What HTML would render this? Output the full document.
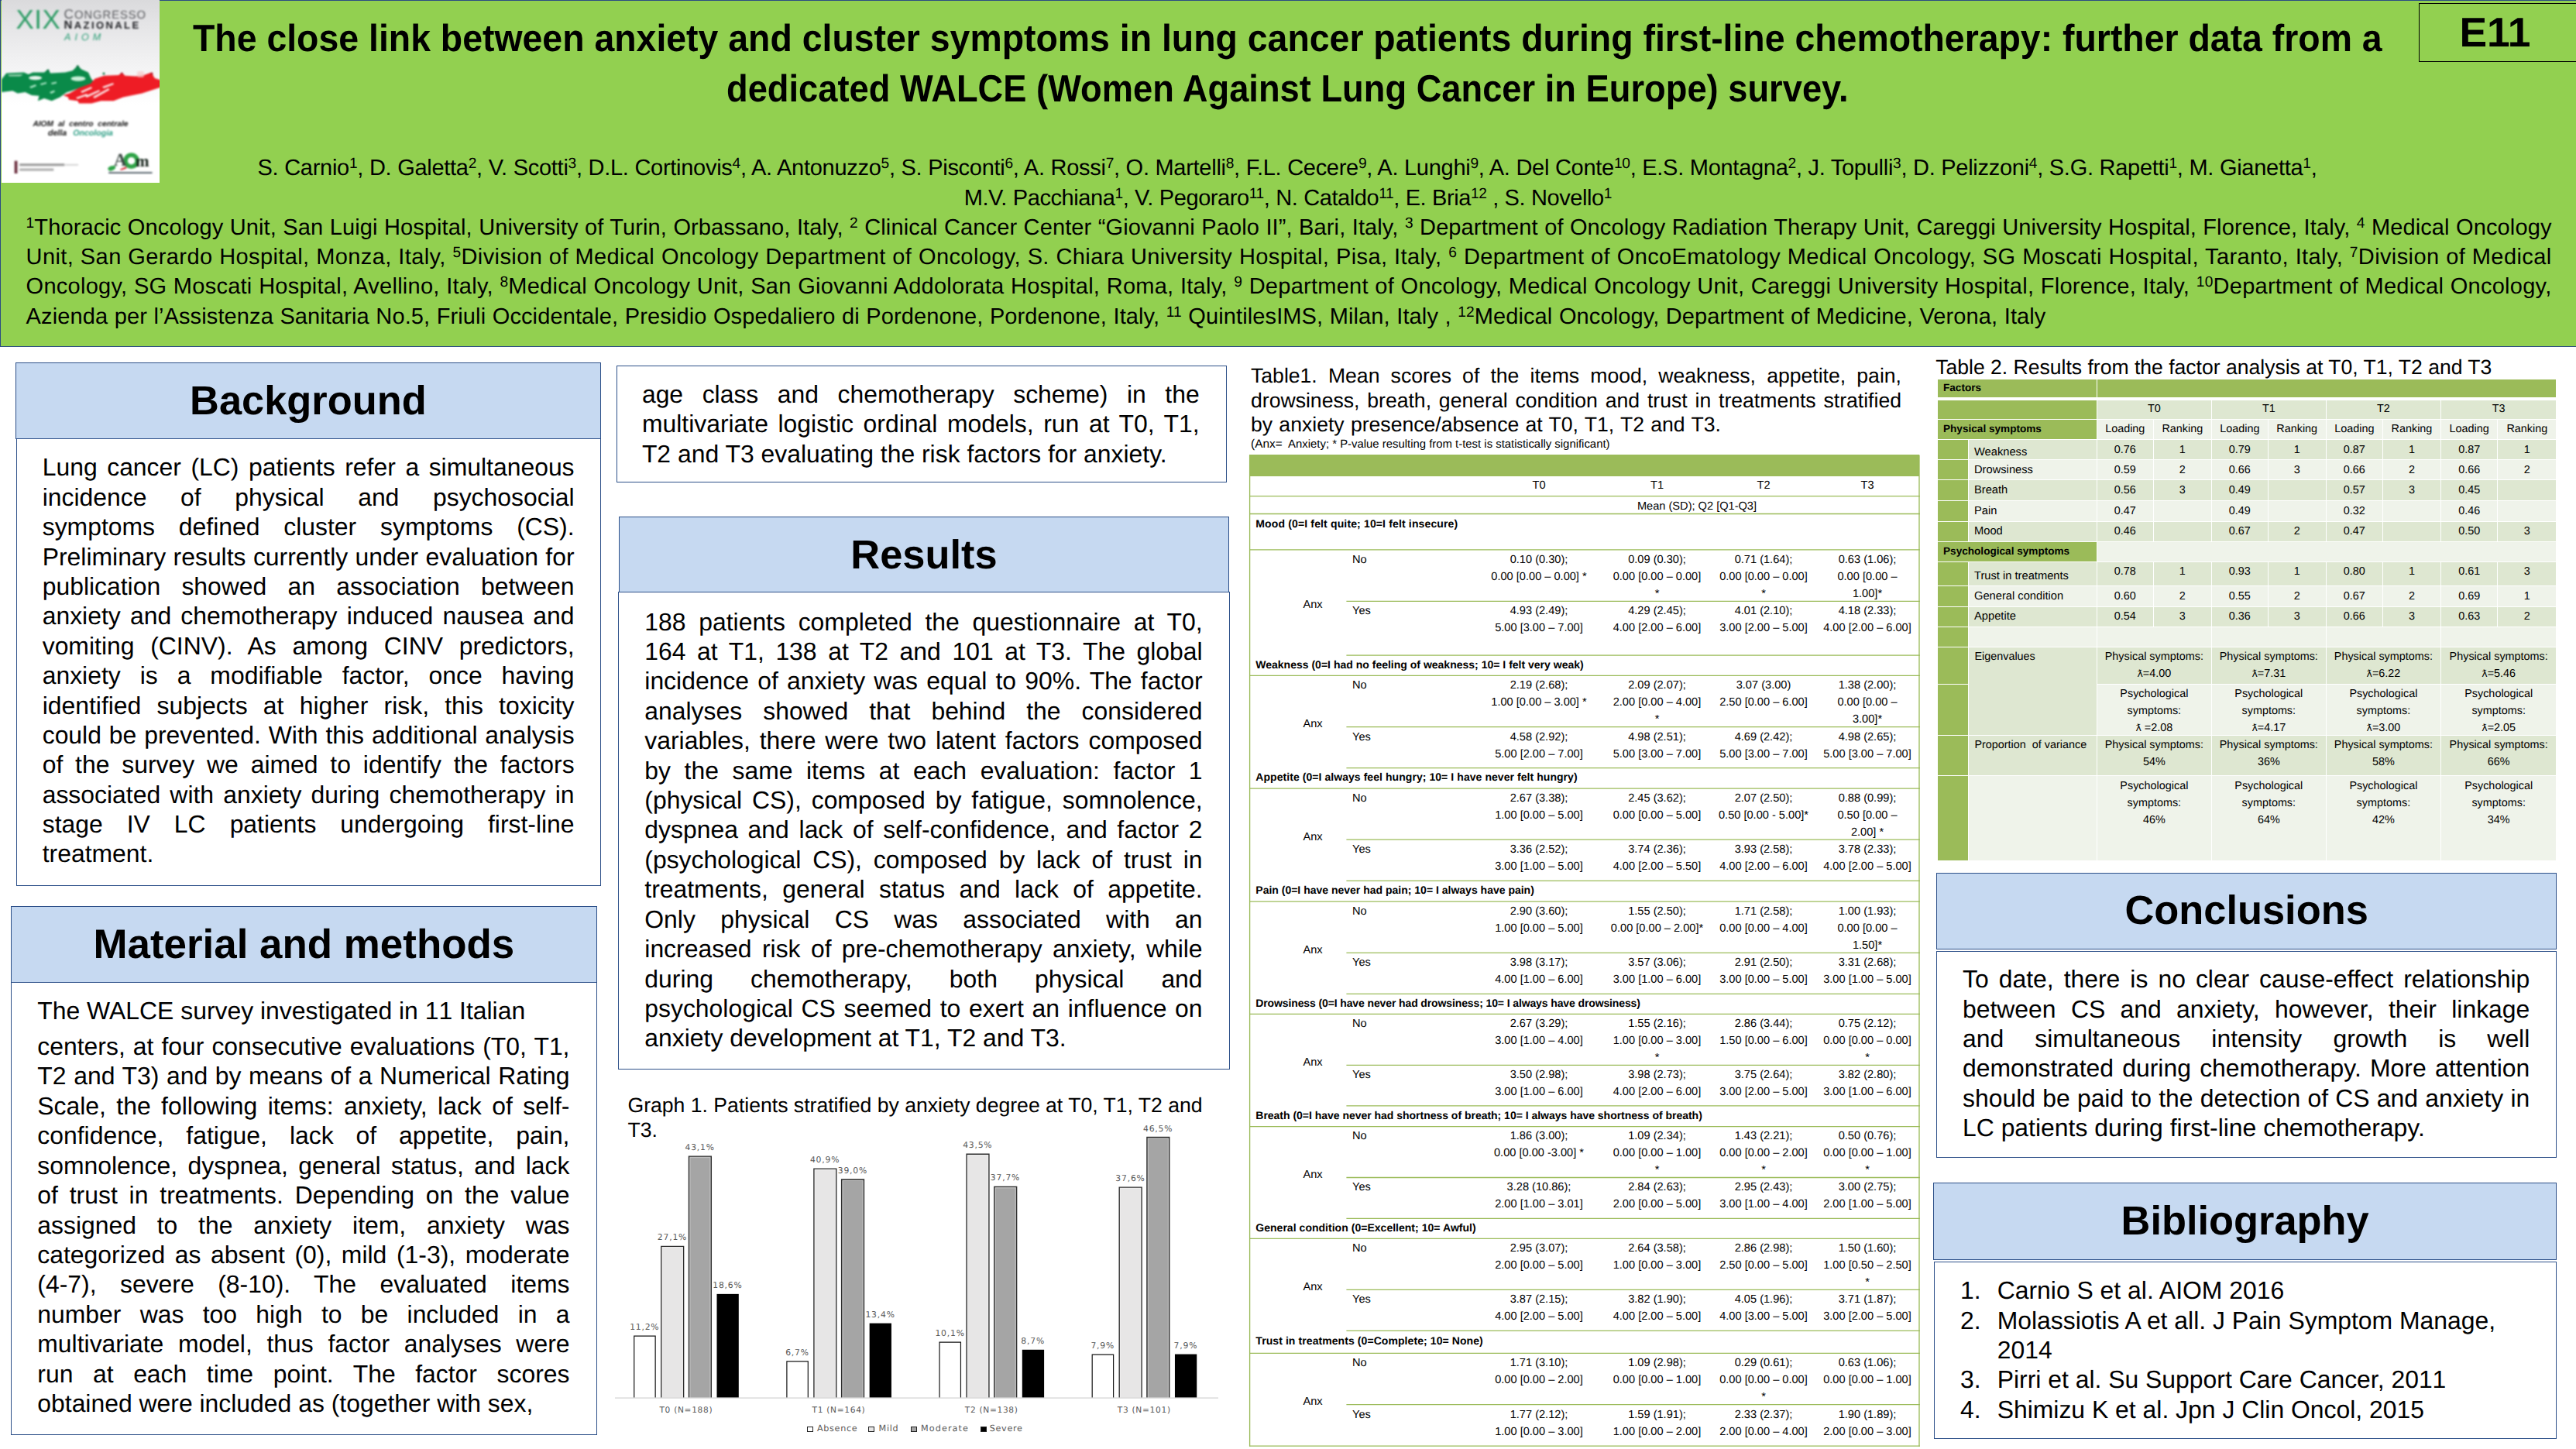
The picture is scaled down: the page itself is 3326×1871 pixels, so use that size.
<!DOCTYPE html>
<html lang="en"><head><meta charset="utf-8"><meta name="viewport" content="width=3326"><title>E11 poster</title>
<style>
*{box-sizing:border-box;margin:0;padding:0}
html,body{width:3326px;height:1871px;background:#fff;overflow:hidden}
body{position:relative;font-family:"Liberation Sans",sans-serif;color:#000;text-rendering:geometricPrecision}
.abs{position:absolute}
.hdr{position:absolute;left:0;top:0;width:3326px;height:448px;background:#92d050;border:1.3px solid #2a4c84;border-right:none}
.ttl{position:absolute;left:0;width:3326px;text-align:center;font-weight:bold;white-space:nowrap}
.auth{position:absolute;left:0;width:3326px;text-align:center;white-space:nowrap}
.auth sup,.aff sup{font-size:66%;vertical-align:baseline;position:relative;top:-0.46em;line-height:0}
.aff{position:absolute;white-space:nowrap;text-align:justify;text-align-last:justify}
.sh{position:absolute;background:#c6d9f1;border:1.4px solid #2d5089;text-align:center;font-weight:bold;font-size:52.9px;white-space:nowrap}
.sb{position:absolute;background:#fff;border:1.4px solid #2d5089}
.jl{position:absolute;white-space:nowrap;text-align:justify;text-align-last:justify;font-size:31.9px;line-height:38px;height:38px}
.ll{position:absolute;white-space:nowrap;text-align:left;font-size:31.9px;line-height:38px;height:38px}
.cap{position:absolute;white-space:nowrap;font-size:26.6px;line-height:32px;height:32px}
.capj{text-align:justify;text-align-last:justify}
.t1{position:absolute;font-size:14.6px;line-height:22px;white-space:nowrap}
.t1 b{font-size:14px;font-weight:bold}
.t1c{position:absolute;text-align:center}
.hl{position:absolute;height:1.7px;background:#b4cb82}
.vl{position:absolute;width:1.5px;background:#a9c46d}
.t2{position:absolute;font-size:14.4px;line-height:22px;white-space:nowrap;overflow:hidden}
.t2c{text-align:center}
.g{background:#9bbb59}.b1{background:#dee7d1}.b2{background:#eff3ea}
.t2 b{font-size:13.6px}
.nk{font-kerning:none}
.lam{font-family:"DejaVu Sans",sans-serif;font-size:12.5px}
.ch{position:absolute;font-family:"DejaVu Sans",sans-serif;color:#595959;white-space:nowrap;text-align:center}
</style></head>
<body>
<div class="hdr"></div>
<div class="abs" style="left:2px;top:0;width:204.3px;height:236px;overflow:hidden;background:linear-gradient(#dadadc 0,#e4e4e6 30px,#efeff0 70px,#f8f8f9 105px,#fff 135px)">
<div class="abs" style="left:-2px;top:0;width:210px;height:236px;filter:blur(0.85px)">
<svg class="abs" style="left:0;top:0" width="210" height="236" viewBox="0 0 210 236">
<path d="M2 102.6 L8.2 94.5 L31 93.6 L36.7 96 L42.4 93.6 L57 93.6 L62 89.6 L65.2 94.5 L84 93.6 L93.7 91.2 L100.3 84.7 L105.2 89.6 L114.1 93.6 L117.4 101 L121 105.5 L117.4 109 L101.9 114 L85.6 119.5 L77.4 125.4 L66.8 130.3 L57 127 L48.9 130.3 L50.5 123.8 L40.8 123 L32.6 118.9 L22.8 120.5 L16.3 117.3 L2 118.9 Z" fill="#0a8a49"/>
<path d="M117 108 L122.3 101.8 L134.5 97.7 L153.3 96.9 L157.3 93.6 L161.4 97.7 L175.3 98.5 L186 97 L195.6 93.6 L199.7 101 L208 103.4 L208 112.4 L195.6 116.5 L183.4 120.5 L159 125.4 L146.7 130.3 L130.4 130.3 L118.2 133.6 L101.9 133.6 L100.3 130.3 L88.9 128.7 L88 125.4 L81.5 123 L89.7 120.5 L101.9 113.6 Z" fill="#ee1c25"/>
<ellipse cx="45.6" cy="100.6" rx="8.5" ry="2.6" fill="#e9f6ee"/>
<ellipse cx="101" cy="101.6" rx="9.5" ry="3.2" fill="#c9efd8"/>
<path d="M10 96.5 L30 96 L26 98.5 L12 98.6Z" fill="#bfe3cd" opacity=".8"/>
<path d="M38 112 L46 109 L47 111 L40 114Z M52 108 L60 106 L60 108 L53 110Z M66 107 L73 105.5 L73 107.5 L67 109Z M64 119 L70 116.5 L71 118.5 L66 121Z" fill="#a9e6c4"/>
<path d="M104 118 L118 112 L119 114 L106 120Z M110 124 L128 116 L129 118 L112 126Z M120 125 L140 114 L141.5 116 L122 127Z M98 126 L112 121 L113 123 L100 128Z M132 112 L146 107 L147 109 L134 114Z" fill="#fbe3e4"/>
<rect x="177" y="92" width="9" height="8" rx="2" fill="#f7c9c9" opacity=".7"/>
<circle cx="62" cy="91" r="1.6" fill="#0a6f3d"/><circle cx="100.3" cy="86" r="1.8" fill="#0a6f3d"/><circle cx="134" cy="95" r="1.5" fill="#0a6f3d"/><circle cx="157.3" cy="95" r="1.6" fill="#b3162a"/><circle cx="196" cy="95" r="1.6" fill="#b3162a"/>
<rect x="18.7" y="207.7" width="3.7" height="16.3" fill="#6a2b3c"/>
<rect x="25.3" y="211.3" width="58" height="3" fill="#777" opacity=".75"/><rect x="84" y="212" width="17" height="1.6" fill="#aaa" opacity=".6"/>
<rect x="25.3" y="217.6" width="44" height="3" fill="#888" opacity=".7"/>
<circle cx="169.6" cy="207.7" r="7.6" fill="none" stroke="#2fa447" stroke-width="5.6"/>
<path d="M139.4 217 Q143 212.5 149.2 214.5 Q150 219 143 220.7 Q139 220.5 139.4 217Z" fill="#2fa447"/>
<path d="M155 218.5 L163 215 L163.5 217.5 L156 220Z" fill="#d8303a"/>
<rect x="140.2" y="222.3" width="56.3" height="1.7" fill="#3c4a55"/>
</svg>
<div class="abs" style="left:20.6px;top:7.0px;font-size:35px;line-height:38px;color:#2f9c66;white-space:nowrap;letter-spacing:0.4px">XIX</div>
<div class="abs" style="left:82.6px;top:9.6px;font-size:14.8px;line-height:17px;color:#5b5c60;letter-spacing:0.95px;white-space:nowrap"><span style="font-size:17.2px">C</span>ONGRESSO</div>
<div class="abs" style="left:82.6px;top:24.4px;font-size:13px;line-height:17px;color:#1f2024;letter-spacing:2.4px;white-space:nowrap;font-weight:bold"><span style="font-size:15px">N</span>AZIONALE</div>
<div class="abs" style="left:83px;top:41px;font-size:12.6px;line-height:14px;color:#2f9f78;letter-spacing:5px;white-space:nowrap;font-style:italic">AIOM</div>
<div class="abs" style="left:42.4px;top:153.8px;width:123px;text-align:justify;text-align-last:justify;font-size:10.2px;line-height:13px;font-weight:bold;font-style:italic;color:#111;white-space:nowrap">AIOM al centro centrale</div>
<div class="abs" style="left:62px;top:165.6px;width:84px;text-align:justify;text-align-last:justify;font-size:10.6px;line-height:13px;font-weight:bold;font-style:italic;color:#111;white-space:nowrap">della <span style="color:#2f9f86">Oncologia</span></div>
<div class="abs" style="left:147px;top:195.4px;font-family:'Liberation Serif',serif;font-size:23px;line-height:24px;color:#3d4a45;font-weight:bold">A</div>
<div class="abs" style="left:175px;top:197.3px;font-family:'Liberation Serif',serif;font-size:21px;line-height:22px;color:#16241c;font-weight:bold;letter-spacing:-0.5px">m</div>
</div>
</div>
<div class="abs" style="left:248.5px;top:20.0px;width:2986.2px;height:60px;line-height:60px;font-weight:bold;font-size:49.0px;white-space:nowrap;transform-origin:0 50%;transform:scaleX(0.9472)">The close link between anxiety and cluster symptoms in lung cancer patients during first-line chemotherapy: further data from a</div>
<div class="abs" style="left:938.0px;top:84.5px;width:1569.3px;height:60px;line-height:60px;font-weight:bold;font-size:49.0px;white-space:nowrap;transform-origin:0 50%;transform:scaleX(0.9242)">dedicated WALCE (Women Against Lung Cancer in Europe) survey.</div>
<div class="auth" style="left:332.5px;top:197.6px;width:2659.0px;height:38px;line-height:38px;font-size:29.0px;letter-spacing:-0.279px;text-align:justify;text-align-last:justify">S. Carnio<sup>1</sup>, D. Galetta<sup>2</sup>, V. Scotti<sup>3</sup>, D.L. Cortinovis<sup>4</sup>, A. Antonuzzo<sup>5</sup>, S. Pisconti<sup>6</sup>, A. Rossi<sup>7</sup>, O. Martelli<sup>8</sup>, F.L. Cecere<sup>9</sup>, A. Lunghi<sup>9</sup>, A. Del Conte<sup>10</sup>, E.S. Montagna<sup>2</sup>, J. Topulli<sup>3</sup>, D. Pelizzoni<sup>4</sup>, S.G. Rapetti<sup>1</sup>, M. Gianetta<sup>1</sup>,</div>
<div class="auth" style="left:1244.7px;top:236.6px;width:836.3px;height:38px;line-height:38px;font-size:29.0px;letter-spacing:-0.417px;text-align:justify;text-align-last:justify">M.V. Pacchiana<sup>1</sup>, V. Pegoraro<sup>11</sup>, N. Cataldo<sup>11</sup>, E. Bria<sup>12</sup> , S. Novello<sup>1</sup></div>
<div class="aff" style="left:33.6px;top:274.6px;width:3260.9px;height:38px;line-height:38px;font-size:29.0px;letter-spacing:0.114px"><sup>1</sup>Thoracic Oncology Unit, San Luigi Hospital, University of Turin, Orbassano, Italy, <sup>2</sup> Clinical Cancer Center  “Giovanni Paolo II”,  Bari, Italy, <sup>3</sup> Department of Oncology Radiation Therapy Unit, Careggi University Hospital, Florence, Italy, <sup>4</sup> Medical Oncology</div>
<div class="aff" style="left:33.6px;top:312.9px;width:3260.9px;height:38px;line-height:38px;font-size:29.0px;letter-spacing:0.391px">Unit, San Gerardo Hospital, Monza, Italy, <sup>5</sup>Division of Medical Oncology Department of Oncology, S. Chiara University Hospital, Pisa, Italy, <sup>6</sup> Department of OncoEmatology  Medical Oncology, SG Moscati Hospital, Taranto, Italy, <sup>7</sup>Division of Medical</div>
<div class="aff" style="left:33.6px;top:351.2px;width:3260.9px;height:38px;line-height:38px;font-size:29.0px;letter-spacing:0.255px">Oncology,  SG Moscati Hospital, Avellino, Italy, <sup>8</sup>Medical Oncology Unit, San Giovanni Addolorata Hospital, Roma, Italy, <sup>9</sup> Department of Oncology, Medical Oncology Unit, Careggi University Hospital, Florence, Italy, <sup>10</sup>Department of Medical Oncology,</div>
<div class="aff" style="left:33.6px;top:389.5px;width:2607.9px;height:38px;line-height:38px;font-size:29.0px;letter-spacing:0.112px">Azienda  per l’Assistenza Sanitaria  No.5, Friuli Occidentale, Presidio Ospedaliero  di Pordenone, Pordenone, Italy, <sup>11</sup> QuintilesIMS, Milan, Italy , <sup>12</sup>Medical Oncology, Department of Medicine, Verona, Italy</div>
<div class="abs" style="left:3122.5px;top:4px;width:210px;height:75.5px;border:1.8px solid #000;text-align:center;font-weight:bold;font-size:53.4px;line-height:75.5px;padding-right:12px">E11</div>
<div class="sb" style="left:20.7px;top:565.0px;width:755.3px;height:579.0px"></div>
<div class="sh" style="left:19.8px;top:468.0px;width:756.2px;height:99.2px;line-height:99.7px;font-size:52.4px">Background</div>
<div class="jl" style="left:54.7px;top:584.4px;width:686.9px">Lung cancer (LC) patients refer a simultaneous</div>
<div class="jl" style="left:54.7px;top:622.8px;width:686.9px">incidence of physical and psychosocial</div>
<div class="jl" style="left:54.7px;top:661.2px;width:686.9px">symptoms defined cluster symptoms (CS).</div>
<div class="jl" style="left:54.7px;top:699.6px;width:686.9px">Preliminary results currently under evaluation for</div>
<div class="jl" style="left:54.7px;top:738.0px;width:686.9px">publication showed an association between</div>
<div class="jl" style="left:54.7px;top:776.3px;width:686.9px">anxiety and chemotherapy induced nausea and</div>
<div class="jl" style="left:54.7px;top:814.7px;width:686.9px">vomiting (CINV). As among CINV predictors,</div>
<div class="jl" style="left:54.7px;top:853.1px;width:686.9px">anxiety is a modifiable factor, once having</div>
<div class="jl" style="left:54.7px;top:891.5px;width:686.9px">identified subjects at higher risk, this toxicity</div>
<div class="jl" style="left:54.7px;top:929.9px;width:686.9px">could be prevented. With this additional analysis</div>
<div class="jl" style="left:54.7px;top:968.2px;width:686.9px">of the survey we aimed to identify the factors</div>
<div class="jl" style="left:54.7px;top:1006.6px;width:686.9px">associated with anxiety during chemotherapy in</div>
<div class="jl" style="left:54.7px;top:1045.0px;width:686.9px">stage IV LC patients undergoing first-line</div>
<div class="ll" style="left:54.7px;top:1083.4px;width:686.9px">treatment.</div>
<div class="sb" style="left:13.5px;top:1267.5px;width:757.8px;height:585.0px"></div>
<div class="sh" style="left:13.5px;top:1170.0px;width:757.8px;height:98.5px;line-height:98.0px;font-size:52.9px">Material and methods</div>
<div class="ll" style="left:48.3px;top:1285.6px;width:687.2px">The WALCE survey investigated in <span class="nk">11</span> Italian</div>
<div class="jl" style="left:48.3px;top:1331.9px;width:687.2px">centers, at four consecutive evaluations (T0, T1,</div>
<div class="jl" style="left:48.3px;top:1370.4px;width:687.2px">T2 and T3) and by means of a Numerical Rating</div>
<div class="jl" style="left:48.3px;top:1408.8px;width:687.2px">Scale, the following items: anxiety, lack of self-</div>
<div class="jl" style="left:48.3px;top:1447.2px;width:687.2px">confidence, fatigue, lack of appetite, pain,</div>
<div class="jl" style="left:48.3px;top:1485.7px;width:687.2px">somnolence, dyspnea, general status, and lack</div>
<div class="jl" style="left:48.3px;top:1524.1px;width:687.2px">of trust in treatments. Depending on the value</div>
<div class="jl" style="left:48.3px;top:1562.5px;width:687.2px">assigned to the anxiety item, anxiety was</div>
<div class="jl" style="left:48.3px;top:1600.9px;width:687.2px">categorized as absent (0), mild (1-3), moderate</div>
<div class="jl" style="left:48.3px;top:1639.4px;width:687.2px">(4-7), severe (8-10). The evaluated items</div>
<div class="jl" style="left:48.3px;top:1677.8px;width:687.2px">number was too high to be included in a</div>
<div class="jl" style="left:48.3px;top:1716.2px;width:687.2px">multivariate model, thus factor analyses were</div>
<div class="jl" style="left:48.3px;top:1754.7px;width:687.2px">run at each time point. The factor scores</div>
<div class="ll" style="left:48.3px;top:1793.1px;width:687.2px">obtained were included as (together with sex,</div>
<div class="sb" style="left:795.5px;top:471.5px;width:788.0px;height:151.0px"></div>
<div class="jl" style="left:828.9px;top:490.0px;width:719.8px">age class and chemotherapy scheme) in the</div>
<div class="jl" style="left:828.9px;top:528.4px;width:719.8px">multivariate logistic ordinal models, run at T0, T1,</div>
<div class="ll" style="left:828.9px;top:566.8px;width:719.8px">T2 and T3 evaluating the risk factors for anxiety.</div>
<div class="sb" style="left:797.5px;top:764.0px;width:790.5px;height:616.5px"></div>
<div class="sh" style="left:799.0px;top:667.0px;width:788.0px;height:98.0px;line-height:98.8px;font-size:52.4px">Results</div>
<div class="jl" style="left:832.3px;top:783.5px;width:720.3px">188 patients completed the questionnaire at T0,</div>
<div class="jl" style="left:832.3px;top:821.9px;width:720.3px">164 at T1, 138 at T2 and 101 at T3. The global</div>
<div class="jl" style="left:832.3px;top:860.3px;width:720.3px">incidence of anxiety was equal to 90%. The factor</div>
<div class="jl" style="left:832.3px;top:898.7px;width:720.3px">analyses showed that behind the considered</div>
<div class="jl" style="left:832.3px;top:937.1px;width:720.3px">variables, there were two latent factors composed</div>
<div class="jl" style="left:832.3px;top:975.6px;width:720.3px">by the same items at each evaluation: factor 1</div>
<div class="jl" style="left:832.3px;top:1014.0px;width:720.3px">(physical CS), composed by fatigue, somnolence,</div>
<div class="jl" style="left:832.3px;top:1052.4px;width:720.3px">dyspnea and lack of self-confidence, and factor 2</div>
<div class="jl" style="left:832.3px;top:1090.8px;width:720.3px">(psychological CS), composed by lack of trust in</div>
<div class="jl" style="left:832.3px;top:1129.2px;width:720.3px">treatments, general status and lack of appetite.</div>
<div class="jl" style="left:832.3px;top:1167.7px;width:720.3px">Only physical CS was associated with an</div>
<div class="jl" style="left:832.3px;top:1206.1px;width:720.3px">increased risk of pre-chemotherapy anxiety, while</div>
<div class="jl" style="left:832.3px;top:1244.5px;width:720.3px">during chemotherapy, both physical and</div>
<div class="jl" style="left:832.3px;top:1282.9px;width:720.3px">psychological CS seemed to exert an influence on</div>
<div class="ll" style="left:832.3px;top:1321.3px;width:720.3px">anxiety development at T1, T2 and T3.</div>
<div class="cap" style="left:810.5px;top:1410.5px">Graph 1. Patients stratified by anxiety degree at T0, T1, T2 and</div>
<div class="cap" style="left:810.5px;top:1442.7px">T3.</div>
<div class="ch" style="left:802.2px;top:1706.9px;width:60.2px;font-size:10.8px;line-height:14px;letter-spacing:.8px">11,2%</div>
<div class="ch" style="left:837.9px;top:1591.4px;width:60.2px;font-size:10.8px;line-height:14px;letter-spacing:.8px">27,1%</div>
<div class="ch" style="left:873.6px;top:1475.2px;width:60.2px;font-size:10.8px;line-height:14px;letter-spacing:.8px">43,1%</div>
<div class="ch" style="left:909.3px;top:1653.2px;width:60.2px;font-size:10.8px;line-height:14px;letter-spacing:.8px">18,6%</div>
<div class="ch" style="left:825.9px;top:1814px;width:120px;font-size:10.6px;line-height:14px;letter-spacing:.7px">T0 (N=188)</div>
<div class="ch" style="left:999.4px;top:1739.6px;width:60.2px;font-size:10.8px;line-height:14px;letter-spacing:.8px">6,7%</div>
<div class="ch" style="left:1035.0px;top:1491.2px;width:60.2px;font-size:10.8px;line-height:14px;letter-spacing:.8px">40,9%</div>
<div class="ch" style="left:1070.8px;top:1505.0px;width:60.2px;font-size:10.8px;line-height:14px;letter-spacing:.8px">39,0%</div>
<div class="ch" style="left:1106.5px;top:1690.9px;width:60.2px;font-size:10.8px;line-height:14px;letter-spacing:.8px">13,4%</div>
<div class="ch" style="left:1023.0px;top:1814px;width:120px;font-size:10.6px;line-height:14px;letter-spacing:.7px">T1 (N=164)</div>
<div class="ch" style="left:1196.5px;top:1714.9px;width:60.2px;font-size:10.8px;line-height:14px;letter-spacing:.8px">10,1%</div>
<div class="ch" style="left:1232.2px;top:1472.3px;width:60.2px;font-size:10.8px;line-height:14px;letter-spacing:.8px">43,5%</div>
<div class="ch" style="left:1267.9px;top:1514.4px;width:60.2px;font-size:10.8px;line-height:14px;letter-spacing:.8px">37,7%</div>
<div class="ch" style="left:1303.6px;top:1725.1px;width:60.2px;font-size:10.8px;line-height:14px;letter-spacing:.8px">8,7%</div>
<div class="ch" style="left:1220.2px;top:1814px;width:120px;font-size:10.6px;line-height:14px;letter-spacing:.7px">T2 (N=138)</div>
<div class="ch" style="left:1393.7px;top:1730.9px;width:60.2px;font-size:10.8px;line-height:14px;letter-spacing:.8px">7,9%</div>
<div class="ch" style="left:1429.4px;top:1515.1px;width:60.2px;font-size:10.8px;line-height:14px;letter-spacing:.8px">37,6%</div>
<div class="ch" style="left:1465.1px;top:1450.5px;width:60.2px;font-size:10.8px;line-height:14px;letter-spacing:.8px">46,5%</div>
<div class="ch" style="left:1500.8px;top:1730.9px;width:60.2px;font-size:10.8px;line-height:14px;letter-spacing:.8px">7,9%</div>
<div class="ch" style="left:1417.3px;top:1814px;width:120px;font-size:10.6px;line-height:14px;letter-spacing:.7px">T3 (N=101)</div>
<svg class="abs" style="left:780px;top:1440px" width="820" height="380" viewBox="780 1440 820 380"><path d="M818.75 1805.0 V1725.21 H846.15 V1805.0" fill="#fff" stroke="#161616" stroke-width="1.2"/><path d="M853.75 1805.0 V1609.42 H882.65 V1805.0" fill="#e7e6e6" stroke="#2e2e2e" stroke-width="1.35"/><path d="M855.25 1805.0 V1610.92 H881.15 V1805.0" fill="none" stroke="#ffffff" stroke-opacity=".33" stroke-width="1"/><path d="M889.45 1805.0 V1493.19 H918.35 V1805.0" fill="#a5a5a5" stroke="#2e2e2e" stroke-width="1.35"/><path d="M890.95 1805.0 V1494.69 H916.85 V1805.0" fill="none" stroke="#ffffff" stroke-opacity=".33" stroke-width="1"/><rect x="925.50" y="1670.86" width="28.3" height="134.14" fill="#000"/><path d="M1015.90 1805.0 V1757.90 H1043.30 V1805.0" fill="#fff" stroke="#161616" stroke-width="1.2"/><path d="M1050.90 1805.0 V1509.17 H1079.80 V1805.0" fill="#e7e6e6" stroke="#2e2e2e" stroke-width="1.35"/><path d="M1052.40 1805.0 V1510.67 H1078.30 V1805.0" fill="none" stroke="#ffffff" stroke-opacity=".33" stroke-width="1"/><path d="M1086.60 1805.0 V1522.97 H1115.50 V1805.0" fill="#a5a5a5" stroke="#2e2e2e" stroke-width="1.35"/><path d="M1088.10 1805.0 V1524.47 H1114.00 V1805.0" fill="none" stroke="#ffffff" stroke-opacity=".33" stroke-width="1"/><rect x="1122.65" y="1708.63" width="28.3" height="96.37" fill="#000"/><path d="M1213.05 1805.0 V1733.20 H1240.45 V1805.0" fill="#fff" stroke="#161616" stroke-width="1.2"/><path d="M1248.05 1805.0 V1490.29 H1276.95 V1805.0" fill="#e7e6e6" stroke="#2e2e2e" stroke-width="1.35"/><path d="M1249.55 1805.0 V1491.79 H1275.45 V1805.0" fill="none" stroke="#ffffff" stroke-opacity=".33" stroke-width="1"/><path d="M1283.75 1805.0 V1532.42 H1312.65 V1805.0" fill="#a5a5a5" stroke="#2e2e2e" stroke-width="1.35"/><path d="M1285.25 1805.0 V1533.92 H1311.15 V1805.0" fill="none" stroke="#ffffff" stroke-opacity=".33" stroke-width="1"/><rect x="1319.80" y="1742.77" width="28.3" height="62.23" fill="#000"/><path d="M1410.20 1805.0 V1749.18 H1437.60 V1805.0" fill="#fff" stroke="#161616" stroke-width="1.2"/><path d="M1445.20 1805.0 V1533.14 H1474.10 V1805.0" fill="#e7e6e6" stroke="#2e2e2e" stroke-width="1.35"/><path d="M1446.70 1805.0 V1534.64 H1472.60 V1805.0" fill="none" stroke="#ffffff" stroke-opacity=".33" stroke-width="1"/><path d="M1480.90 1805.0 V1468.49 H1509.80 V1805.0" fill="#a5a5a5" stroke="#2e2e2e" stroke-width="1.35"/><path d="M1482.40 1805.0 V1469.99 H1508.30 V1805.0" fill="none" stroke="#ffffff" stroke-opacity=".33" stroke-width="1"/><rect x="1516.95" y="1748.58" width="28.3" height="56.42" fill="#000"/><rect x="794" y="1804.4" width="779" height="1.4" fill="#d9d9d9"/></svg>
<div class="abs" style="left:1042.3px;top:1841.8px;width:7.6px;height:7.2px;background:#fff;border:1px solid #222"></div><div class="ch" style="left:1054.9px;top:1838.2px;text-align:left;font-size:11.2px;line-height:14px;letter-spacing:0.7px">Absence</div>
<div class="abs" style="left:1121.3px;top:1841.8px;width:7.6px;height:7.2px;background:#e7e6e6;border:1px solid #222"></div><div class="ch" style="left:1134.6px;top:1838.2px;text-align:left;font-size:11.2px;line-height:14px;letter-spacing:0.7px">Mild</div>
<div class="abs" style="left:1176.3px;top:1841.8px;width:7.6px;height:7.2px;background:#a5a5a5;border:1px solid #222"></div><div class="ch" style="left:1189.0px;top:1838.2px;text-align:left;font-size:11.2px;line-height:14px;letter-spacing:1.1px">Moderate</div>
<div class="abs" style="left:1265.6px;top:1841.8px;width:8.6px;height:7.2px;background:#000;border:1px solid #222"></div><div class="ch" style="left:1277.7px;top:1838.2px;text-align:left;font-size:11.2px;line-height:14px;letter-spacing:0.7px">Severe</div>
<div class="cap capj" style="left:1615px;top:468.6px;width:840px">Table1. Mean scores of the items mood, weakness, appetite, pain,</div>
<div class="cap capj" style="left:1615px;top:501.1px;width:840px">drowsiness, breath, general condition and trust in treatments stratified</div>
<div class="cap capj" style="left:1615px;top:532.2px;width:606.9px">by anxiety  presence/absence at T0, T1, T2 and T3.</div>
<div class="abs" style="left:1615px;top:563.5px;white-space:nowrap;font-size:14.9px;line-height:20px"><span style="font-size:15.4px">(Anx=</span>&nbsp; Anxiety; * P-value resulting from t-test is statistically significant)</div>
<div class="abs" style="left:1613.3px;top:587.3px;width:865.0px;height:27.4px;background:#9bbb59"></div>
<div class="t1" style="left:1904px;top:615.5px;width:166px;text-align:center;">T0</div><div class="t1" style="left:2071px;top:615.5px;width:137px;text-align:center;">T1</div><div class="t1" style="left:2208px;top:615.5px;width:138px;text-align:center;">T2</div><div class="t1" style="left:2344px;top:615.5px;width:134px;text-align:center;">T3</div>
<div class="t1" style="left:1904px;top:643.0px;width:574px;text-align:center;">Mean (SD); Q2 [Q1-Q3]</div>
<div class="t1" style="left:1621.3px;top:664.5px;width:261.0px;text-align:justify;text-align-last:justify;font-weight:bold;font-size:14px;letter-spacing:0.13px">Mood (0=I felt quite; 10=I felt insecure)</div><div class="t1" style="left:1746px;top:712.3px;width:154px;text-align:left;">No</div><div class="t1" style="left:1904px;top:712.3px;width:166px;text-align:center;">0.10 (0.30);<br>0.00 [0.00 – 0.00] *</div><div class="t1" style="left:2071px;top:712.3px;width:137px;text-align:center;">0.09 (0.30);<br>0.00 [0.00 – 0.00]<br>*</div><div class="t1" style="left:2208px;top:712.3px;width:138px;text-align:center;">0.71 (1.64);<br>0.00 [0.00 – 0.00]<br>*</div><div class="t1" style="left:2344px;top:712.3px;width:134px;text-align:center;">0.63 (1.06);<br>0.00 [0.00 –<br>1.00]*</div><div class="t1" style="left:1746px;top:778.3px;width:154px;text-align:left;">Yes</div><div class="t1" style="left:1904px;top:778.3px;width:166px;text-align:center;">4.93 (2.49);<br>5.00 [3.00 – 7.00]</div><div class="t1" style="left:2071px;top:778.3px;width:137px;text-align:center;">4.29 (2.45);<br>4.00 [2.00 – 6.00]</div><div class="t1" style="left:2208px;top:778.3px;width:138px;text-align:center;">4.01 (2.10);<br>3.00 [2.00 – 5.00]</div><div class="t1" style="left:2344px;top:778.3px;width:134px;text-align:center;">4.18 (2.33);<br>4.00 [2.00 – 6.00]</div><div class="t1" style="left:1655px;top:770.4px;width:80px;text-align:center;">Anx</div>
<div class="t1" style="left:1621.3px;top:846.5px;width:423.4px;text-align:justify;text-align-last:justify;font-weight:bold;font-size:14px;letter-spacing:-0.002px">Weakness (0=I  had no feeling of weakness; 10= I felt very weak)</div><div class="t1" style="left:1746px;top:874.4px;width:154px;text-align:left;">No</div><div class="t1" style="left:1904px;top:874.4px;width:166px;text-align:center;">2.19 (2.68);<br>1.00 [0.00 – 3.00] *</div><div class="t1" style="left:2071px;top:874.4px;width:137px;text-align:center;">2.09 (2.07);<br>2.00 [0.00 – 4.00]<br>*</div><div class="t1" style="left:2208px;top:874.4px;width:138px;text-align:center;">3.07 (3.00)<br>2.50 [0.00 – 6.00]</div><div class="t1" style="left:2344px;top:874.4px;width:134px;text-align:center;">1.38 (2.00);<br>0.00 [0.00 –<br>3.00]*</div><div class="t1" style="left:1746px;top:940.5px;width:154px;text-align:left;">Yes</div><div class="t1" style="left:1904px;top:940.5px;width:166px;text-align:center;">4.58 (2.92);<br>5.00 [2.00 – 7.00]</div><div class="t1" style="left:2071px;top:940.5px;width:137px;text-align:center;">4.98 (2.51);<br>5.00 [3.00 – 7.00]</div><div class="t1" style="left:2208px;top:940.5px;width:138px;text-align:center;">4.69 (2.42);<br>5.00 [3.00 – 7.00]</div><div class="t1" style="left:2344px;top:940.5px;width:134px;text-align:center;">4.98 (2.65);<br>5.00 [3.00 – 7.00]</div><div class="t1" style="left:1655px;top:923.9px;width:80px;text-align:center;">Anx</div>
<div class="t1" style="left:1621.3px;top:992.3px;width:415.4px;text-align:justify;text-align-last:justify;font-weight:bold;font-size:14px;letter-spacing:0.053px">Appetite (0=I always feel hungry; 10= I have never felt hungry)</div><div class="t1" style="left:1746px;top:1020.1px;width:154px;text-align:left;">No</div><div class="t1" style="left:1904px;top:1020.1px;width:166px;text-align:center;">2.67 (3.38);<br>1.00 [0.00 – 5.00]</div><div class="t1" style="left:2071px;top:1020.1px;width:137px;text-align:center;">2.45 (3.62);<br>0.00 [0.00 – 5.00]</div><div class="t1" style="left:2208px;top:1020.1px;width:138px;text-align:center;">2.07 (2.50);<br>0.50 [0.00 - 5.00]*</div><div class="t1" style="left:2344px;top:1020.1px;width:134px;text-align:center;">0.88 (0.99);<br>0.50 [0.00 –<br>2.00] *</div><div class="t1" style="left:1746px;top:1086.2px;width:154px;text-align:left;">Yes</div><div class="t1" style="left:1904px;top:1086.2px;width:166px;text-align:center;">3.36 (2.52);<br>3.00 [1.00 – 5.00]</div><div class="t1" style="left:2071px;top:1086.2px;width:137px;text-align:center;">3.74 (2.36);<br>4.00 [2.00 – 5.50]</div><div class="t1" style="left:2208px;top:1086.2px;width:138px;text-align:center;">3.93 (2.58);<br>4.00 [2.00 – 6.00]</div><div class="t1" style="left:2344px;top:1086.2px;width:134px;text-align:center;">3.78 (2.33);<br>4.00 [2.00 – 5.00]</div><div class="t1" style="left:1655px;top:1069.8px;width:80px;text-align:center;">Anx</div>
<div class="t1" style="left:1621.3px;top:1138.3px;width:359.5px;text-align:justify;text-align-last:justify;font-weight:bold;font-size:14px;letter-spacing:-0.009px">Pain (0=I have never had pain; 10= I always have pain)</div><div class="t1" style="left:1746px;top:1166.1px;width:154px;text-align:left;">No</div><div class="t1" style="left:1904px;top:1166.1px;width:166px;text-align:center;">2.90 (3.60);<br>1.00 [0.00 – 5.00]</div><div class="t1" style="left:2071px;top:1166.1px;width:137px;text-align:center;">1.55 (2.50);<br>0.00 [0.00 – 2.00]*</div><div class="t1" style="left:2208px;top:1166.1px;width:138px;text-align:center;">1.71 (2.58);<br>0.00 [0.00 – 4.00]</div><div class="t1" style="left:2344px;top:1166.1px;width:134px;text-align:center;">1.00 (1.93);<br>0.00 [0.00 –<br>1.50]*</div><div class="t1" style="left:1746px;top:1232.3px;width:154px;text-align:left;">Yes</div><div class="t1" style="left:1904px;top:1232.3px;width:166px;text-align:center;">3.98 (3.17);<br>4.00 [1.00 – 6.00]</div><div class="t1" style="left:2071px;top:1232.3px;width:137px;text-align:center;">3.57 (3.06);<br>3.00 [1.00 – 6.00]</div><div class="t1" style="left:2208px;top:1232.3px;width:138px;text-align:center;">2.91 (2.50);<br>3.00 [0.00 – 5.00]</div><div class="t1" style="left:2344px;top:1232.3px;width:134px;text-align:center;">3.31 (2.68);<br>3.00 [1.00 – 5.00]</div><div class="t1" style="left:1655px;top:1215.8px;width:80px;text-align:center;">Anx</div>
<div class="t1" style="left:1621.3px;top:1284.3px;width:496.5px;text-align:justify;text-align-last:justify;font-weight:bold;font-size:14px;letter-spacing:-0.125px">Drowsiness (0=I have never had drowsiness; 10= I always have drowsiness)</div><div class="t1" style="left:1746px;top:1311.2px;width:154px;text-align:left;">No</div><div class="t1" style="left:1904px;top:1311.2px;width:166px;text-align:center;">2.67 (3.29);<br>3.00 [1.00 – 4.00]</div><div class="t1" style="left:2071px;top:1311.2px;width:137px;text-align:center;">1.55 (2.16);<br>1.00 [0.00 – 3.00]<br>*</div><div class="t1" style="left:2208px;top:1311.2px;width:138px;text-align:center;">2.86 (3.44);<br>1.50 [0.00 – 6.00]</div><div class="t1" style="left:2344px;top:1311.2px;width:134px;text-align:center;">0.75 (2.12);<br>0.00 [0.00 – 0.00]<br>*</div><div class="t1" style="left:1746px;top:1377.3px;width:154px;text-align:left;">Yes</div><div class="t1" style="left:1904px;top:1377.3px;width:166px;text-align:center;">3.50 (2.98);<br>3.00 [1.00 – 6.00]</div><div class="t1" style="left:2071px;top:1377.3px;width:137px;text-align:center;">3.98 (2.73);<br>4.00 [2.00 – 6.00]</div><div class="t1" style="left:2208px;top:1377.3px;width:138px;text-align:center;">3.75 (2.64);<br>3.00 [2.00 – 5.00]</div><div class="t1" style="left:2344px;top:1377.3px;width:134px;text-align:center;">3.82 (2.80);<br>3.00 [1.00 – 6.00]</div><div class="t1" style="left:1655px;top:1360.7px;width:80px;text-align:center;">Anx</div>
<div class="t1" style="left:1621.3px;top:1429.0px;width:576.5px;text-align:justify;text-align-last:justify;font-weight:bold;font-size:14px;letter-spacing:-0.024px">Breath (0=I have never had shortness of breath; 10= I always have shortness of breath)</div><div class="t1" style="left:1746px;top:1456.2px;width:154px;text-align:left;">No</div><div class="t1" style="left:1904px;top:1456.2px;width:166px;text-align:center;">1.86 (3.00);<br>0.00 [0.00 -3.00] *</div><div class="t1" style="left:2071px;top:1456.2px;width:137px;text-align:center;">1.09 (2.34);<br>0.00 [0.00 – 1.00]<br>*</div><div class="t1" style="left:2208px;top:1456.2px;width:138px;text-align:center;">1.43 (2.21);<br>0.00 [0.00 – 2.00]<br>*</div><div class="t1" style="left:2344px;top:1456.2px;width:134px;text-align:center;">0.50 (0.76);<br>0.00 [0.00 – 1.00]<br>*</div><div class="t1" style="left:1746px;top:1522.3px;width:154px;text-align:left;">Yes</div><div class="t1" style="left:1904px;top:1522.3px;width:166px;text-align:center;">3.28 (10.86);<br>2.00 [1.00 – 3.01]</div><div class="t1" style="left:2071px;top:1522.3px;width:137px;text-align:center;">2.84 (2.63);<br>2.00 [0.00 – 5.00]</div><div class="t1" style="left:2208px;top:1522.3px;width:138px;text-align:center;">2.95 (2.43);<br>3.00 [1.00 – 4.00]</div><div class="t1" style="left:2344px;top:1522.3px;width:134px;text-align:center;">3.00 (2.75);<br>2.00 [1.00 – 5.00]</div><div class="t1" style="left:1655px;top:1505.7px;width:80px;text-align:center;">Anx</div>
<div class="t1" style="left:1621.3px;top:1574.0px;width:284.4px;text-align:justify;text-align-last:justify;font-weight:bold;font-size:14px;letter-spacing:0.017px">General condition (0=Excellent; 10= Awful)</div><div class="t1" style="left:1746px;top:1601.2px;width:154px;text-align:left;">No</div><div class="t1" style="left:1904px;top:1601.2px;width:166px;text-align:center;">2.95 (3.07);<br>2.00 [0.00 – 5.00]</div><div class="t1" style="left:2071px;top:1601.2px;width:137px;text-align:center;">2.64 (3.58);<br>1.00 [0.00 – 3.00]</div><div class="t1" style="left:2208px;top:1601.2px;width:138px;text-align:center;">2.86 (2.98);<br>2.50 [0.00 – 5.00]</div><div class="t1" style="left:2344px;top:1601.2px;width:134px;text-align:center;">1.50 (1.60);<br>1.00 [0.50 – 2.50]<br>*</div><div class="t1" style="left:1746px;top:1667.4px;width:154px;text-align:left;">Yes</div><div class="t1" style="left:1904px;top:1667.4px;width:166px;text-align:center;">3.87 (2.15);<br>4.00 [2.00 – 5.00]</div><div class="t1" style="left:2071px;top:1667.4px;width:137px;text-align:center;">3.82 (1.90);<br>4.00 [2.00 – 5.00]</div><div class="t1" style="left:2208px;top:1667.4px;width:138px;text-align:center;">4.05 (1.96);<br>4.00 [3.00 – 5.00]</div><div class="t1" style="left:2344px;top:1667.4px;width:134px;text-align:center;">3.71 (1.87);<br>3.00 [2.00 – 5.00]</div><div class="t1" style="left:1655px;top:1650.8px;width:80px;text-align:center;">Anx</div>
<div class="t1" style="left:1621.3px;top:1720.3px;width:293.5px;text-align:justify;text-align-last:justify;font-weight:bold;font-size:14px;letter-spacing:0.067px">Trust in treatments (0=Complete; 10= None)</div><div class="t1" style="left:1746px;top:1749.4px;width:154px;text-align:left;">No</div><div class="t1" style="left:1904px;top:1749.4px;width:166px;text-align:center;">1.71 (3.10);<br>0.00 [0.00 – 2.00]</div><div class="t1" style="left:2071px;top:1749.4px;width:137px;text-align:center;">1.09 (2.98);<br>0.00 [0.00 – 1.00]</div><div class="t1" style="left:2208px;top:1749.4px;width:138px;text-align:center;">0.29 (0.61);<br>0.00 [0.00 – 0.00]<br>*</div><div class="t1" style="left:2344px;top:1749.4px;width:134px;text-align:center;">0.63 (1.06);<br>0.00 [0.00 – 1.00]</div><div class="t1" style="left:1746px;top:1816.3px;width:154px;text-align:left;">Yes</div><div class="t1" style="left:1904px;top:1816.3px;width:166px;text-align:center;">1.77 (2.12);<br>1.00 [0.00 – 3.00]</div><div class="t1" style="left:2071px;top:1816.3px;width:137px;text-align:center;">1.59 (1.91);<br>1.00 [0.00 – 2.00]</div><div class="t1" style="left:2208px;top:1816.3px;width:138px;text-align:center;">2.33 (2.37);<br>2.00 [0.00 – 4.00]</div><div class="t1" style="left:2344px;top:1816.3px;width:134px;text-align:center;">1.90 (1.89);<br>2.00 [0.00 – 3.00]</div><div class="t1" style="left:1655px;top:1799.2px;width:80px;text-align:center;">Anx</div>
<svg class="abs" style="left:1600px;top:580px" width="900" height="1291" viewBox="1600 580 900 1291" fill="none" stroke="#9bbb59" stroke-width="1.33"><line x1="1613.3" y1="640.60" x2="2478.9" y2="640.60"/><line x1="1613.3" y1="663.50" x2="2478.9" y2="663.50"/><line x1="1613.3" y1="709.80" x2="2478.9" y2="709.80"/><line x1="1738.4" y1="776.30" x2="2478.9" y2="776.30"/><line x1="1738.4" y1="846.10" x2="2478.9" y2="846.10"/><line x1="1613.3" y1="872.40" x2="2478.9" y2="872.40"/><line x1="1738.4" y1="938.60" x2="2478.9" y2="938.60"/><line x1="1738.4" y1="991.60" x2="2478.9" y2="991.60"/><line x1="1613.3" y1="1018.20" x2="2478.9" y2="1018.20"/><line x1="1738.4" y1="1084.20" x2="2478.9" y2="1084.20"/><line x1="1738.4" y1="1137.30" x2="2478.9" y2="1137.30"/><line x1="1613.3" y1="1164.20" x2="2478.9" y2="1164.20"/><line x1="1738.4" y1="1230.30" x2="2478.9" y2="1230.30"/><line x1="1738.4" y1="1283.30" x2="2478.9" y2="1283.30"/><line x1="1613.3" y1="1309.30" x2="2478.9" y2="1309.30"/><line x1="1738.4" y1="1375.30" x2="2478.9" y2="1375.30"/><line x1="1738.4" y1="1427.95" x2="2478.9" y2="1427.95"/><line x1="1613.3" y1="1454.60" x2="2478.9" y2="1454.60"/><line x1="1738.4" y1="1520.50" x2="2478.9" y2="1520.50"/><line x1="1738.4" y1="1573.30" x2="2478.9" y2="1573.30"/><line x1="1613.3" y1="1599.30" x2="2478.9" y2="1599.30"/><line x1="1738.4" y1="1665.40" x2="2478.9" y2="1665.40"/><line x1="1738.4" y1="1718.30" x2="2478.9" y2="1718.30"/><line x1="1613.3" y1="1747.40" x2="2478.9" y2="1747.40"/><line x1="1738.4" y1="1813.60" x2="2478.9" y2="1813.60"/><line x1="1613.3" y1="1867.20" x2="2478.9" y2="1867.20"/><line x1="1613.6" y1="587.5" x2="1613.6" y2="1867.8"/><line x1="2478.0" y1="587.5" x2="2478.0" y2="1867.8"/></svg>
<div class="cap" style="left:2499.2px;top:457.5px;font-size:26.56px">Table 2. Results from the factor analysis at T0, T1, T2 and T3</div>
<div class="t2 g" style="left:2502.0px;top:489.5px;width:204.8px;height:23.4px;text-align:left;padding-left:7px;padding-top:0.5px;"><b>Factors</b></div><div class="t2 g" style="left:2707.8px;top:489.5px;width:592.5px;height:23.4px;text-align:center;"></div>
<div class="t2 g" style="left:2502.0px;top:516.7px;width:204.8px;height:24.1px;text-align:center;"></div><div class="t2 b1" style="left:2707.8px;top:516.7px;width:147.1px;height:24.1px;text-align:center;padding-top:-0.2px;">T0</div><div class="t2 b1" style="left:2855.9px;top:516.7px;width:146.8px;height:24.1px;text-align:center;padding-top:-0.2px;">T1</div><div class="t2 b1" style="left:3003.7px;top:516.7px;width:147.4px;height:24.1px;text-align:center;padding-top:-0.2px;">T2</div><div class="t2 b1" style="left:3152.1px;top:516.7px;width:148.2px;height:24.1px;text-align:center;padding-top:-0.2px;">T3</div>
<div class="t2 g" style="left:2502.0px;top:541.8px;width:204.8px;height:25.1px;text-align:left;padding-left:7px;padding-top:1.1px;"><b>Physical symptoms</b></div><div class="t2 b2" style="left:2707.8px;top:541.8px;width:71.9px;height:25.1px;text-align:center;padding-top:1.1px;">Loading</div><div class="t2 b2" style="left:2780.7px;top:541.8px;width:74.2px;height:25.1px;text-align:center;padding-top:1.1px;">Ranking</div><div class="t2 b2" style="left:2855.9px;top:541.8px;width:71.9px;height:25.1px;text-align:center;padding-top:1.1px;">Loading</div><div class="t2 b2" style="left:2928.8px;top:541.8px;width:73.9px;height:25.1px;text-align:center;padding-top:1.1px;">Ranking</div><div class="t2 b2" style="left:3003.7px;top:541.8px;width:72.2px;height:25.1px;text-align:center;padding-top:1.1px;">Loading</div><div class="t2 b2" style="left:3076.9px;top:541.8px;width:74.2px;height:25.1px;text-align:center;padding-top:1.1px;">Ranking</div><div class="t2 b2" style="left:3152.1px;top:541.8px;width:72.2px;height:25.1px;text-align:center;padding-top:1.1px;">Loading</div><div class="t2 b2" style="left:3225.3px;top:541.8px;width:75.0px;height:25.1px;text-align:center;padding-top:1.1px;">Ranking</div>
<div class="t2 g" style="left:2502.0px;top:567.9px;width:39.0px;height:25.0px;text-align:center;"></div><div class="t2 b1" style="left:2542.0px;top:567.9px;width:164.8px;height:25.0px;text-align:left;padding-left:7.0px;padding-top:5.0px;"><span style="font-size:14.7px">Weakness</span></div><div class="t2 b1" style="left:2707.8px;top:567.9px;width:71.9px;height:25.0px;text-align:center;padding-top:2.2px;">0.76</div><div class="t2 b1" style="left:2780.7px;top:567.9px;width:74.2px;height:25.0px;text-align:center;padding-top:2.2px;">1</div><div class="t2 b1" style="left:2855.9px;top:567.9px;width:71.9px;height:25.0px;text-align:center;padding-top:2.2px;">0.79</div><div class="t2 b1" style="left:2928.8px;top:567.9px;width:73.9px;height:25.0px;text-align:center;padding-top:2.2px;">1</div><div class="t2 b1" style="left:3003.7px;top:567.9px;width:72.2px;height:25.0px;text-align:center;padding-top:2.2px;">0.87</div><div class="t2 b1" style="left:3076.9px;top:567.9px;width:74.2px;height:25.0px;text-align:center;padding-top:2.2px;">1</div><div class="t2 b1" style="left:3152.1px;top:567.9px;width:72.2px;height:25.0px;text-align:center;padding-top:2.2px;">0.87</div><div class="t2 b1" style="left:3225.3px;top:567.9px;width:75.0px;height:25.0px;text-align:center;padding-top:2.2px;">1</div>
<div class="t2 g" style="left:2502.0px;top:593.9px;width:39.0px;height:25.5px;text-align:center;"></div><div class="t2 b2" style="left:2542.0px;top:593.9px;width:164.8px;height:25.5px;text-align:left;padding-left:7.0px;padding-top:2.2px;"><span style="font-size:14.7px">Drowsiness</span></div><div class="t2 b2" style="left:2707.8px;top:593.9px;width:71.9px;height:25.5px;text-align:center;padding-top:2.2px;">0.59</div><div class="t2 b2" style="left:2780.7px;top:593.9px;width:74.2px;height:25.5px;text-align:center;padding-top:2.2px;">2</div><div class="t2 b2" style="left:2855.9px;top:593.9px;width:71.9px;height:25.5px;text-align:center;padding-top:2.2px;">0.66</div><div class="t2 b2" style="left:2928.8px;top:593.9px;width:73.9px;height:25.5px;text-align:center;padding-top:2.2px;">3</div><div class="t2 b2" style="left:3003.7px;top:593.9px;width:72.2px;height:25.5px;text-align:center;padding-top:2.2px;">0.66</div><div class="t2 b2" style="left:3076.9px;top:593.9px;width:74.2px;height:25.5px;text-align:center;padding-top:2.2px;">2</div><div class="t2 b2" style="left:3152.1px;top:593.9px;width:72.2px;height:25.5px;text-align:center;padding-top:2.2px;">0.66</div><div class="t2 b2" style="left:3225.3px;top:593.9px;width:75.0px;height:25.5px;text-align:center;padding-top:2.2px;">2</div>
<div class="t2 g" style="left:2502.0px;top:620.4px;width:39.0px;height:25.6px;text-align:center;"></div><div class="t2 b1" style="left:2542.0px;top:620.4px;width:164.8px;height:25.6px;text-align:left;padding-left:7.0px;padding-top:2.0px;"><span style="font-size:14.7px">Breath</span></div><div class="t2 b1" style="left:2707.8px;top:620.4px;width:71.9px;height:25.6px;text-align:center;padding-top:1.2px;">0.56</div><div class="t2 b1" style="left:2780.7px;top:620.4px;width:74.2px;height:25.6px;text-align:center;padding-top:1.2px;">3</div><div class="t2 b1" style="left:2855.9px;top:620.4px;width:71.9px;height:25.6px;text-align:center;padding-top:1.2px;">0.49</div><div class="t2 b1" style="left:2928.8px;top:620.4px;width:73.9px;height:25.6px;text-align:center;padding-top:1.2px;"></div><div class="t2 b1" style="left:3003.7px;top:620.4px;width:72.2px;height:25.6px;text-align:center;padding-top:1.2px;">0.57</div><div class="t2 b1" style="left:3076.9px;top:620.4px;width:74.2px;height:25.6px;text-align:center;padding-top:1.2px;">3</div><div class="t2 b1" style="left:3152.1px;top:620.4px;width:72.2px;height:25.6px;text-align:center;padding-top:1.2px;">0.45</div><div class="t2 b1" style="left:3225.3px;top:620.4px;width:75.0px;height:25.6px;text-align:center;padding-top:1.2px;"></div>
<div class="t2 g" style="left:2502.0px;top:647.0px;width:39.0px;height:25.5px;text-align:center;"></div><div class="t2 b2" style="left:2542.0px;top:647.0px;width:164.8px;height:25.5px;text-align:left;padding-left:7.0px;padding-top:2.4px;"><span style="font-size:14.7px">Pain</span></div><div class="t2 b2" style="left:2707.8px;top:647.0px;width:71.9px;height:25.5px;text-align:center;padding-top:2.4px;">0.47</div><div class="t2 b2" style="left:2780.7px;top:647.0px;width:74.2px;height:25.5px;text-align:center;padding-top:2.4px;"></div><div class="t2 b2" style="left:2855.9px;top:647.0px;width:71.9px;height:25.5px;text-align:center;padding-top:2.4px;">0.49</div><div class="t2 b2" style="left:2928.8px;top:647.0px;width:73.9px;height:25.5px;text-align:center;padding-top:2.4px;"></div><div class="t2 b2" style="left:3003.7px;top:647.0px;width:72.2px;height:25.5px;text-align:center;padding-top:2.4px;">0.32</div><div class="t2 b2" style="left:3076.9px;top:647.0px;width:74.2px;height:25.5px;text-align:center;padding-top:2.4px;"></div><div class="t2 b2" style="left:3152.1px;top:647.0px;width:72.2px;height:25.5px;text-align:center;padding-top:2.4px;">0.46</div><div class="t2 b2" style="left:3225.3px;top:647.0px;width:75.0px;height:25.5px;text-align:center;padding-top:2.4px;"></div>
<div class="t2 g" style="left:2502.0px;top:673.5px;width:39.0px;height:25.1px;text-align:center;"></div><div class="t2 b1" style="left:2542.0px;top:673.5px;width:164.8px;height:25.1px;text-align:left;padding-left:7.0px;padding-top:1.6px;"><span style="font-size:14.7px">Mood</span></div><div class="t2 b1" style="left:2707.8px;top:673.5px;width:71.9px;height:25.1px;text-align:center;padding-top:1.6px;">0.46</div><div class="t2 b1" style="left:2780.7px;top:673.5px;width:74.2px;height:25.1px;text-align:center;padding-top:1.6px;"></div><div class="t2 b1" style="left:2855.9px;top:673.5px;width:71.9px;height:25.1px;text-align:center;padding-top:1.6px;">0.67</div><div class="t2 b1" style="left:2928.8px;top:673.5px;width:73.9px;height:25.1px;text-align:center;padding-top:1.6px;">2</div><div class="t2 b1" style="left:3003.7px;top:673.5px;width:72.2px;height:25.1px;text-align:center;padding-top:1.6px;">0.47</div><div class="t2 b1" style="left:3076.9px;top:673.5px;width:74.2px;height:25.1px;text-align:center;padding-top:1.6px;"></div><div class="t2 b1" style="left:3152.1px;top:673.5px;width:72.2px;height:25.1px;text-align:center;padding-top:1.6px;">0.50</div><div class="t2 b1" style="left:3225.3px;top:673.5px;width:75.0px;height:25.1px;text-align:center;padding-top:1.6px;">3</div>
<div class="t2 g" style="left:2502.0px;top:699.6px;width:204.8px;height:25.3px;text-align:left;padding-left:7px;padding-top:1.4px;"><b>Psychological symptoms</b></div><div class="t2 b2" style="left:2707.8px;top:699.6px;width:592.5px;height:25.3px;text-align:center;"></div>
<div class="t2 g" style="left:2502.0px;top:725.9px;width:39.0px;height:29.9px;text-align:center;"></div><div class="t2 b1" style="left:2542.0px;top:725.9px;width:164.8px;height:29.9px;text-align:left;padding-left:7.0px;padding-top:7.0px;"><span style="font-size:14.7px">Trust in treatments</span></div><div class="t2 b1" style="left:2707.8px;top:725.9px;width:71.9px;height:29.9px;text-align:center;padding-top:1.4px;">0.78</div><div class="t2 b1" style="left:2780.7px;top:725.9px;width:74.2px;height:29.9px;text-align:center;padding-top:1.4px;">1</div><div class="t2 b1" style="left:2855.9px;top:725.9px;width:71.9px;height:29.9px;text-align:center;padding-top:1.4px;">0.93</div><div class="t2 b1" style="left:2928.8px;top:725.9px;width:73.9px;height:29.9px;text-align:center;padding-top:1.4px;">1</div><div class="t2 b1" style="left:3003.7px;top:725.9px;width:72.2px;height:29.9px;text-align:center;padding-top:1.4px;">0.80</div><div class="t2 b1" style="left:3076.9px;top:725.9px;width:74.2px;height:29.9px;text-align:center;padding-top:1.4px;">1</div><div class="t2 b1" style="left:3152.1px;top:725.9px;width:72.2px;height:29.9px;text-align:center;padding-top:1.4px;">0.61</div><div class="t2 b1" style="left:3225.3px;top:725.9px;width:75.0px;height:29.9px;text-align:center;padding-top:1.4px;">3</div>
<div class="t2 g" style="left:2502.0px;top:756.8px;width:39.0px;height:26.0px;text-align:center;"></div><div class="t2 b2" style="left:2542.0px;top:756.8px;width:164.8px;height:26.0px;text-align:left;padding-left:7.0px;padding-top:2.4px;"><span style="font-size:14.7px">General condition</span></div><div class="t2 b2" style="left:2707.8px;top:756.8px;width:71.9px;height:26.0px;text-align:center;padding-top:2.4px;">0.60</div><div class="t2 b2" style="left:2780.7px;top:756.8px;width:74.2px;height:26.0px;text-align:center;padding-top:2.4px;">2</div><div class="t2 b2" style="left:2855.9px;top:756.8px;width:71.9px;height:26.0px;text-align:center;padding-top:2.4px;">0.55</div><div class="t2 b2" style="left:2928.8px;top:756.8px;width:73.9px;height:26.0px;text-align:center;padding-top:2.4px;">2</div><div class="t2 b2" style="left:3003.7px;top:756.8px;width:72.2px;height:26.0px;text-align:center;padding-top:2.4px;">0.67</div><div class="t2 b2" style="left:3076.9px;top:756.8px;width:74.2px;height:26.0px;text-align:center;padding-top:2.4px;">2</div><div class="t2 b2" style="left:3152.1px;top:756.8px;width:72.2px;height:26.0px;text-align:center;padding-top:2.4px;">0.69</div><div class="t2 b2" style="left:3225.3px;top:756.8px;width:75.0px;height:26.0px;text-align:center;padding-top:2.4px;">1</div>
<div class="t2 g" style="left:2502.0px;top:783.8px;width:39.0px;height:25.0px;text-align:center;"></div><div class="t2 b1" style="left:2542.0px;top:783.8px;width:164.8px;height:25.0px;text-align:left;padding-left:7.0px;padding-top:1.2px;"><span style="font-size:14.7px">Appetite</span></div><div class="t2 b1" style="left:2707.8px;top:783.8px;width:71.9px;height:25.0px;text-align:center;padding-top:1.2px;">0.54</div><div class="t2 b1" style="left:2780.7px;top:783.8px;width:74.2px;height:25.0px;text-align:center;padding-top:1.2px;">3</div><div class="t2 b1" style="left:2855.9px;top:783.8px;width:71.9px;height:25.0px;text-align:center;padding-top:1.2px;">0.36</div><div class="t2 b1" style="left:2928.8px;top:783.8px;width:73.9px;height:25.0px;text-align:center;padding-top:1.2px;">3</div><div class="t2 b1" style="left:3003.7px;top:783.8px;width:72.2px;height:25.0px;text-align:center;padding-top:1.2px;">0.66</div><div class="t2 b1" style="left:3076.9px;top:783.8px;width:74.2px;height:25.0px;text-align:center;padding-top:1.2px;">3</div><div class="t2 b1" style="left:3152.1px;top:783.8px;width:72.2px;height:25.0px;text-align:center;padding-top:1.2px;">0.63</div><div class="t2 b1" style="left:3225.3px;top:783.8px;width:75.0px;height:25.0px;text-align:center;padding-top:1.2px;">2</div>
<div class="t2 g" style="left:2502.0px;top:809.8px;width:39.0px;height:25.3px;text-align:center;"></div><div class="t2 b2" style="left:2542.0px;top:809.8px;width:164.8px;height:25.3px;text-align:center;"></div><div class="t2 b2" style="left:2707.8px;top:809.8px;width:147.1px;height:25.3px;text-align:center;"></div><div class="t2 b2" style="left:2855.9px;top:809.8px;width:146.8px;height:25.3px;text-align:center;"></div><div class="t2 b2" style="left:3003.7px;top:809.8px;width:147.4px;height:25.3px;text-align:center;"></div><div class="t2 b2" style="left:3152.1px;top:809.8px;width:148.2px;height:25.3px;text-align:center;"></div>
<div class="t2 g" style="left:2502.0px;top:836.1px;width:39.0px;height:46.7px;text-align:center;"></div><div class="t2 g" style="left:2502.0px;top:883.8px;width:39.0px;height:65.0px;text-align:center;"></div><div class="t2 b1" style="left:2542.0px;top:836.1px;width:164.8px;height:112.7px;text-align:left;padding-left:7.4px;padding-top:0.7px;">Eigenvalues</div><div class="t2 b1" style="left:2707.8px;top:836.1px;width:147.1px;height:46.7px;text-align:center;padding-top:0.9px;">Physical symptoms:<br><span class="lam">ƛ</span>=4.00</div><div class="t2 b1" style="left:2855.9px;top:836.1px;width:146.8px;height:46.7px;text-align:center;padding-top:0.9px;">Physical symptoms:<br><span class="lam">ƛ</span>=7.31</div><div class="t2 b1" style="left:3003.7px;top:836.1px;width:147.4px;height:46.7px;text-align:center;padding-top:0.9px;">Physical symptoms:<br><span class="lam">ƛ</span>=6.22</div><div class="t2 b1" style="left:3152.1px;top:836.1px;width:148.2px;height:46.7px;text-align:center;padding-top:0.9px;">Physical symptoms:<br><span class="lam">ƛ</span>=5.46</div><div class="t2 b2" style="left:2707.8px;top:883.8px;width:147.1px;height:65.0px;text-align:center;padding-top:0.9px;">Psychological<br>symptoms:<br><span class="lam">ƛ</span> =2.08</div><div class="t2 b2" style="left:2855.9px;top:883.8px;width:146.8px;height:65.0px;text-align:center;padding-top:0.9px;">Psychological<br>symptoms:<br><span class="lam">ƛ</span>=4.17</div><div class="t2 b2" style="left:3003.7px;top:883.8px;width:147.4px;height:65.0px;text-align:center;padding-top:0.9px;">Psychological<br>symptoms:<br><span class="lam">ƛ</span>=3.00</div><div class="t2 b2" style="left:3152.1px;top:883.8px;width:148.2px;height:65.0px;text-align:center;padding-top:0.9px;">Psychological<br>symptoms:<br><span class="lam">ƛ</span>=2.05</div>
<div class="t2 g" style="left:2502.0px;top:949.8px;width:39.0px;height:51.5px;text-align:center;"></div><div class="t2 b1" style="left:2542.0px;top:949.8px;width:164.8px;height:51.5px;text-align:left;padding-left:7.4px;padding-top:1.5px;">Proportion &nbsp;of variance</div><div class="t2 b1" style="left:2707.8px;top:949.8px;width:147.1px;height:51.5px;text-align:center;padding-top:0.9px;">Physical symptoms:<br>54%</div><div class="t2 b1" style="left:2855.9px;top:949.8px;width:146.8px;height:51.5px;text-align:center;padding-top:0.9px;">Physical symptoms:<br>36%</div><div class="t2 b1" style="left:3003.7px;top:949.8px;width:147.4px;height:51.5px;text-align:center;padding-top:0.9px;">Physical symptoms:<br>58%</div><div class="t2 b1" style="left:3152.1px;top:949.8px;width:148.2px;height:51.5px;text-align:center;padding-top:0.9px;">Physical symptoms:<br>66%</div><div class="t2 g" style="left:2502.0px;top:1002.3px;width:39.0px;height:109.2px;text-align:center;"></div><div class="t2 b2" style="left:2542.0px;top:1002.3px;width:164.8px;height:109.2px;text-align:center;"></div><div class="t2 b2" style="left:2707.8px;top:1002.3px;width:147.1px;height:109.2px;text-align:center;padding-top:1.3px;">Psychological<br>symptoms:<br>46%</div><div class="t2 b2" style="left:2855.9px;top:1002.3px;width:146.8px;height:109.2px;text-align:center;padding-top:1.3px;">Psychological<br>symptoms:<br>64%</div><div class="t2 b2" style="left:3003.7px;top:1002.3px;width:147.4px;height:109.2px;text-align:center;padding-top:1.3px;">Psychological<br>symptoms:<br>42%</div><div class="t2 b2" style="left:3152.1px;top:1002.3px;width:148.2px;height:109.2px;text-align:center;padding-top:1.3px;">Psychological<br>symptoms:<br>34%</div>
<div class="sb" style="left:2500.0px;top:1227.8px;width:801.3px;height:267.0px"></div>
<div class="sh" style="left:2500.0px;top:1127.0px;width:801.3px;height:98.8px;line-height:97.6px;font-size:52.4px">Conclusions</div>
<div class="jl" style="left:2534.0px;top:1245.3px;width:732.3px">To date, there is no clear cause-effect relationship</div>
<div class="jl" style="left:2534.0px;top:1283.7px;width:732.3px">between CS and anxiety, however, their linkage</div>
<div class="jl" style="left:2534.0px;top:1322.0px;width:732.3px">and simultaneous intensity growth is well</div>
<div class="jl" style="left:2534.0px;top:1360.4px;width:732.3px">demonstrated during chemotherapy. More attention</div>
<div class="jl" style="left:2534.0px;top:1398.7px;width:732.3px">should be paid to the detection of CS and anxiety in</div>
<div class="ll" style="left:2534.0px;top:1437.1px;width:732.3px">LC patients during first-line chemotherapy.</div>
<div class="sb" style="left:2497.0px;top:1629.0px;width:804.3px;height:228.6px"></div>
<div class="sh" style="left:2496.0px;top:1527.2px;width:805.3px;height:99.4px;line-height:99.1px;font-size:52.4px">Bibliography</div>
<div class="ll" style="left:2531px;top:1647.3px">1.</div><div class="ll" style="left:2578.7px;top:1647.3px">Carnio S et al. AIOM 2016</div>
<div class="ll" style="left:2531px;top:1685.6px">2.</div><div class="ll" style="left:2578.7px;top:1685.6px">Molassiotis A et all. J Pain Symptom Manage,</div>
<div class="ll" style="left:2578.7px;top:1724.0px">2014</div>
<div class="ll" style="left:2531px;top:1762.3px">3.</div><div class="ll" style="left:2578.7px;top:1762.3px">Pirri et al. Su Support Care Cancer, 20<span class="nk">11</span></div>
<div class="ll" style="left:2531px;top:1800.7px">4.</div><div class="ll" style="left:2578.7px;top:1800.7px">Shimizu K et al. Jpn J Clin Oncol, 2015</div>
</body></html>
